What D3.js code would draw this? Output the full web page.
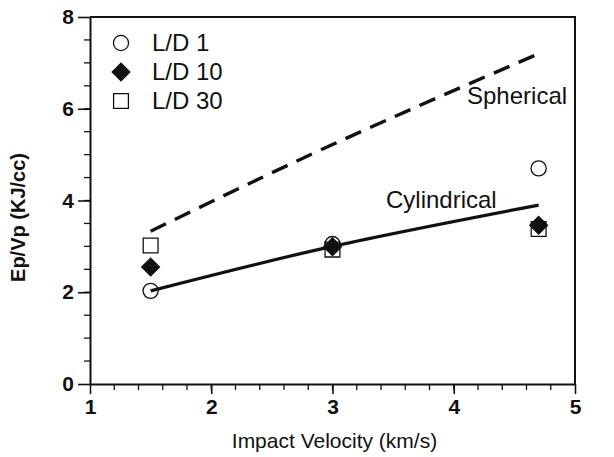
<!DOCTYPE html>
<html>
<head>
<meta charset="utf-8">
<script src="https://cdn.jsdelivr.net/npm/d3@7"></script>
<style>
  body { margin: 0; background: #fff; }
  text { font-family: "Liberation Sans", Arial, sans-serif; fill: #111; }
</style>
</head>
<body>
<div id="main"></div>
<script>
const WIDTH = 614, HEIGHT = 457;
const margin = {left: 90, right: 39, top: 17, bottom: 73};

// data
const velocity = [1.5, 3, 4.7];
const ld1 = [2.03, 3.05, 4.7];
const ld10 = [2.55, 2.99, 3.46];
const ld30 = [3.02, 2.93, 3.38];
const cylindrical = [2.03, 3.0, 3.9];
const spherical = [3.33, 5.22, 7.2];

const xTicks = [1, 2, 3, 4, 5];
const yTicks = [0, 2, 4, 6, 8];
const legendNames = ["L/D 1", "L/D 10", "L/D 30"];

const svg = d3.select("#main").append("svg")
    .attr("width", WIDTH).attr("height", HEIGHT);

const x = d3.scaleLinear().domain([1, 5]).range([margin.left, WIDTH - margin.right]);
const y = d3.scaleLinear().domain([0, 8]).range([HEIGHT - margin.bottom, margin.top]);

// frame (top + right)
svg.append("path")
    .attr("d", `M${x(1)},${y(8)}H${x(5)}V${y(0)}`)
    .attr("fill", "none").attr("stroke", "#111").attr("stroke-width", 2);

// minor ticks
const xMinor = d3.range(12, 50, 2).map(d => d / 10);
const yMinor = d3.range(1, 16).map(d => d / 2);
svg.append("g").selectAll("line").data(xMinor).enter().append("line")
    .attr("x1", d => x(d)).attr("x2", d => x(d))
    .attr("y1", y(0)).attr("y2", y(0) + 6)
    .attr("stroke", "#111").attr("stroke-width", 1.3);
svg.append("g").selectAll("line").data(yMinor).enter().append("line")
    .attr("y1", d => y(d)).attr("y2", d => y(d))
    .attr("x1", x(1) - 6).attr("x2", x(1))
    .attr("stroke", "#111").attr("stroke-width", 1.3);

// major axes
const xAxis = svg.append("g").attr("transform", `translate(0,${y(0)})`)
    .call(d3.axisBottom(x).tickValues(xTicks).tickFormat(d3.format("d"))
        .tickSize(10).tickSizeOuter(0).tickPadding(5));
const yAxis = svg.append("g").attr("transform", `translate(${x(1)},0)`)
    .call(d3.axisLeft(y).tickValues(yTicks).tickFormat(d3.format("d"))
        .tickSize(12).tickSizeOuter(0).tickPadding(4));

[xAxis, yAxis].forEach(g => {
    g.selectAll("line").attr("stroke", "#111").attr("stroke-width", 1.6);
    g.select(".domain").attr("stroke", "#111").attr("stroke-width", 2);
    g.selectAll("text").style("font-size", "21px").style("font-weight", "bold")
        .attr("fill", "#111");
});

// axis titles
svg.append("text")
    .attr("x", (x(1) + x(5)) / 2 + 2).attr("y", 448)
    .attr("text-anchor", "middle").style("font-size", "21px")
    .text("Impact Velocity (km/s)");
svg.append("text")
    .attr("transform", `translate(25,${(y(0) + y(8)) / 2 + 17}) rotate(-90)`)
    .attr("text-anchor", "middle").style("font-size", "20px").style("font-weight", "bold")
    .text("Ep/Vp (KJ/cc)");

// model lines
const line = d3.line().x((d, i) => x(velocity[i])).y(d => y(d)).curve(d3.curveNatural);
svg.append("path").datum(spherical)
    .attr("d", line).attr("fill", "none").attr("stroke", "#111")
    .attr("stroke-width", 3.4).attr("stroke-dasharray", "17,10");
svg.append("path").datum(cylindrical)
    .attr("d", line).attr("fill", "none").attr("stroke", "#111")
    .attr("stroke-width", 3.2);

svg.append("text").attr("x", 467).attr("y", 104).style("font-size", "24px").text("Spherical");
svg.append("text").attr("x", 386).attr("y", 208).style("font-size", "24px").text("Cylindrical");

// markers
const sym = {
    circle: d3.symbol().type(d3.symbolCircle).size(180),
    diamond: d3.symbol().type(d3.symbolDiamond2).size(200),
    square: d3.symbol().type(d3.symbolSquare).size(220)
};
const series = [
    {vals: ld30, shape: "square", fill: "#fff"},
    {vals: ld10, shape: "diamond", fill: "#111"},
    {vals: ld1, shape: "circle", fill: "none"}
];
series.forEach(s => {
    svg.append("g").selectAll("path")
        .data(s.vals).enter().append("path")
        .attr("transform", (d, i) => `translate(${x(velocity[i])},${y(d)})`)
        .attr("d", sym[s.shape])
        .attr("fill", s.fill).attr("stroke", "#111").attr("stroke-width", 1.3);
});

// legend
const legend = svg.append("g").attr("transform", "translate(121,0)");
const legendShapes = [["circle", "none"], ["diamond", "#111"], ["square", "#fff"]];
legendNames.forEach((name, i) => {
    const yy = 43 + i * 29;
    legend.append("path").attr("transform", `translate(0,${yy})`)
        .attr("d", sym[legendShapes[i][0]])
        .attr("fill", legendShapes[i][1]).attr("stroke", "#111").attr("stroke-width", 1.3);
    legend.append("text").attr("x", 31).attr("y", yy + 8)
        .style("font-size", "24px").text(name);
});
</script>
</body>
</html>
